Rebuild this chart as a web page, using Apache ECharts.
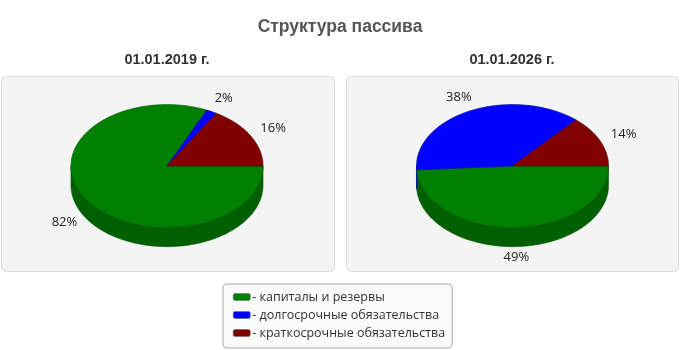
<!DOCTYPE html>
<html><head><meta charset="utf-8">
<script src="https://cdn.jsdelivr.net/npm/echarts@6/dist/echarts.min.js"></script>
<style>html,body{margin:0;padding:0;background:#fff}#c{width:680px;height:350px}</style>
</head><body><div id="c"></div>
<script>
const chartTitle = 'Структура пассива';
const categories = ['капиталы и резервы', 'долгосрочные обязательства', 'краткосрочные обязательства'];
const dates = ['01.01.2019 г.', '01.01.2026 г.'];
const values2019 = [81.8, 1.8, 16.4];
const values2026 = [49.0, 37.5, 13.5];

const topColors = ['#008000', '#0000ff', '#800000'];
const sideColors = ['#006000', '#0000b8', '#5c0000'];
const lineColors = ['#005800', '#0000a0', '#500000'];
const valueSets = [values2019, values2026];

const FONT_B = '"Liberation Sans", Arial, sans-serif';
const FONT_R = '"Open Sans", "Liberation Sans", sans-serif';
const centersX = [167 / 680, 512.5 / 680];
const centerY = 166 / 350;

function makeRender(catIdx) {
  return function (params, api) {
    const chart = api.value(0);
    const val = api.value(1);
    const vals = valueSets[chart];
    const total = vals.reduce((a, b) => a + b, 0);
    let before = 0;
    for (let j = vals.length - 1; j > catIdx; j--) before += vals[j];
    const t1 = before / total * Math.PI * 2;
    const t2 = (before + val) / total * Math.PI * 2;
    const W = api.getWidth(), H = api.getHeight();
    const cx = W * centersX[chart], cy = H * centerY;
    const rx = W * 0.1412, ry = rx * 0.64, depth = rx * 0.2;
    const pt = (t, dy) => [cx + rx * Math.cos(t), cy - ry * Math.sin(t) + (dy || 0)];
    const children = [];
    const n = Math.max(4, Math.ceil((t2 - t1) / 0.02));
    const topPts = [[cx, cy]];
    for (let k = 0; k <= n; k++) topPts.push(pt(t1 + (t2 - t1) * k / n));
    const a = Math.max(t1, Math.PI), b = Math.min(t2, Math.PI * 2);
    if (b > a) {
      const m = Math.max(4, Math.ceil((b - a) / 0.02));
      const sp = [];
      for (let k = 0; k <= m; k++) sp.push(pt(a + (b - a) * k / m));
      for (let k = m; k >= 0; k--) sp.push(pt(a + (b - a) * k / m, depth));
      children.push({
        type: 'polygon', z2: 1, shape: { points: sp },
        style: { fill: sideColors[catIdx], stroke: lineColors[catIdx], lineWidth: 0.6 }
      });
    }
    children.push({
      type: 'polygon', z2: 10, shape: { points: topPts },
      style: { fill: topColors[catIdx], stroke: lineColors[catIdx], lineWidth: 0.6 }
    });
    const mid = (t1 + t2) / 2;
    const s = Math.sin(mid);
    const lx = cx + rx * 1.27 * Math.cos(mid);
    const ly = cy - ry * 1.25 * s + (s < 0 ? depth * 0.75 : 0);
    children.push({
      type: 'text', z2: 20, x: lx, y: ly,
      style: { text: Math.round(val) + '%', fill: '#222', font: '13px ' + FONT_R, align: 'center', verticalAlign: 'middle' }
    });
    return { type: 'group', children: children };
  };
}

const series = categories.map((name, i) => ({
  type: 'custom',
  name: name,
  coordinateSystem: 'none',
  itemStyle: { color: topColors[i] },
  renderItem: makeRender(i),
  data: [[0, values2019[i]], [1, values2026[i]]],
  silent: true,
  animation: false
}));

const chart = echarts.init(document.getElementById('c'), null, { renderer: 'canvas' });
chart.setOption({
  animation: false,
  backgroundColor: '#fff',
  title: {
    text: chartTitle, left: 'center', top: 13,
    textStyle: { fontSize: 17.5, fontWeight: 'bold', color: '#555', fontFamily: FONT_B }
  },
  graphic: [
    { type: 'rect', z: -10, shape: { x: 1.5, y: 76.5, width: 333, height: 195, r: 5 },
      style: { fill: '#f4f4f4', stroke: '#dcdcdc', lineWidth: 1 } },
    { type: 'rect', z: -10, shape: { x: 346.5, y: 76.5, width: 332, height: 195, r: 5 },
      style: { fill: '#f4f4f4', stroke: '#dcdcdc', lineWidth: 1 } },
    { type: 'text', x: 167, y: 60, style: { text: dates[0], fill: '#333', font: 'bold 14.5px ' + FONT_B, align: 'center', verticalAlign: 'middle' } },
    { type: 'text', x: 512, y: 60, style: { text: dates[1], fill: '#333', font: 'bold 14.5px ' + FONT_B, align: 'center', verticalAlign: 'middle' } }
  ],
  legend: {
    orient: 'vertical',
    left: 223, top: 284,
    data: categories,
    icon: 'roundRect',
    itemWidth: 17, itemHeight: 7,
    itemGap: 4,
    padding: [6, 7, 8, 10],
    backgroundColor: '#fbfbfb',
    borderColor: '#aaaaaa', borderWidth: 1, borderRadius: 4,
    selectedMode: false,
    formatter: name => '- ' + name,
    textStyle: { fontSize: 12.5, lineHeight: 14, color: '#333', fontFamily: FONT_R, padding: [0, 0, 0, -3] },
    itemStyle: { borderColor: '#666', borderWidth: 0.5 }
  },
  series: series
});
</script></body></html>
